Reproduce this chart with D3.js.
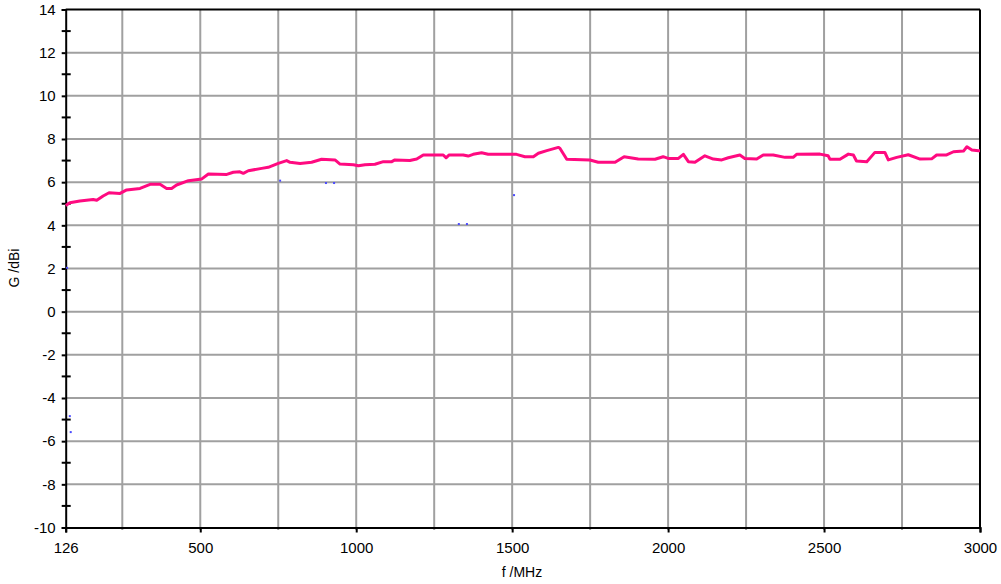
<html>
<head>
<meta charset="UTF-8">
<title>G / f</title>
<script src="https://cdn.jsdelivr.net/npm/d3@7"></script>
<style type="text/css">
    body { margin:0; background:#fff; }
    svg text { font-family:Arial, "Liberation Sans", sans-serif; fill:#000; }
</style>
</head>
<body>
<div id="chart"></div>
<script>
    // gain curve
    var freq = [126,135,157,186,194,208,221,245,264,307,339,371,392,408,424,462,505,526,585,606,627,638,654,697,718,750,777,788,820,857,889,932,948,991,1007,1028,1060,1087,1114,1124,1172,1194,1215,1279,1288,1298,1343,1359,1375,1402,1423,1514,1541,1568,1584,1611,1648,1653,1675,1749,1776,1830,1859,1904,1958,1984,2000,2033,2049,2065,2086,2118,2145,2172,2193,2230,2246,2284,2305,2337,2375,2401,2412,2487,2513,2519,2551,2578,2594,2604,2637,2663,2695,2706,2733,2770,2808,2845,2861,2893,2915,2947,2958,2974,2995,3000];
    var gain = [4.92,5.05,5.13,5.2,5.16,5.36,5.51,5.48,5.64,5.71,5.9,5.9,5.71,5.71,5.87,6.07,6.15,6.38,6.36,6.46,6.48,6.41,6.53,6.64,6.69,6.87,7.0,6.92,6.87,6.92,7.06,7.03,6.84,6.81,6.76,6.81,6.83,6.95,6.95,7.03,7.0,7.07,7.26,7.26,7.13,7.26,7.26,7.21,7.29,7.36,7.29,7.29,7.18,7.18,7.34,7.46,7.61,7.57,7.06,7.03,6.92,6.92,7.18,7.07,7.06,7.18,7.1,7.1,7.29,6.95,6.92,7.22,7.07,7.03,7.13,7.26,7.1,7.07,7.26,7.26,7.15,7.15,7.29,7.3,7.22,7.06,7.06,7.3,7.26,6.98,6.95,7.38,7.38,7.03,7.15,7.27,7.07,7.08,7.26,7.26,7.41,7.44,7.64,7.49,7.46,7.46];

    // stray blue points
    var dotFreq = [129,135,137,756,903,929,1329,1355,1506];
    var dotGain = [2.03,-4.84,-5.58,6.07,5.96,5.96,4.06,4.06,5.4];

    var xTickVals = [126,500,1000,1500,2000,2500,3000];
    var xGridVals = [250,500,750,1000,1250,1500,1750,2000,2250,2500,2750];
    var yTickVals = [-10,-8,-6,-4,-2,0,2,4,6,8,10,12,14];
    var yMinorVals = [-9,-7,-5,-3,-1,1,3,5,7,9,11,13];

    var W = 1001, H = 584;
    var mLeft = 65.7, mTop = 9.5, pw = 914.3, ph = 518;

    var svg = d3.select("#chart").append("svg")
        .attr("width", W).attr("height", H);
    var g = svg.append("g").attr("transform", "translate(" + mLeft + "," + mTop + ")");

    // the first axis section (126..250) is wider than the rest in the original
    var x = d3.scaleLinear().domain([126, 250, 3000]).range([0, 56.6, pw]);
    var y = d3.scaleLinear().domain([-10, 14]).range([ph, 0]);

    // grid
    g.selectAll("line.hgrid")
        .data(yTickVals.filter(function(d){ return d > -10 && d < 14; }))
        .enter().append("line")
        .attr("class", "hgrid")
        .attr("x1", 0).attr("x2", pw)
        .attr("y1", function(d){ return y(d); })
        .attr("y2", function(d){ return y(d); })
        .attr("stroke", "#a0a0a0").attr("stroke-width", 2);
    g.selectAll("line.vgrid")
        .data(xGridVals)
        .enter().append("line")
        .attr("class", "vgrid")
        .attr("x1", function(d){ return x(d); })
        .attr("x2", function(d){ return x(d); })
        .attr("y1", 0).attr("y2", ph + 2.5)
        .attr("stroke", "#a0a0a0").attr("stroke-width", 2);

    // frame: top and right
    g.append("line").attr("x1", 0).attr("x2", pw).attr("y1", 0).attr("y2", 0)
        .attr("stroke", "#000").attr("stroke-width", 2);
    g.append("line").attr("x1", pw).attr("x2", pw).attr("y1", 0).attr("y2", ph)
        .attr("stroke", "#000").attr("stroke-width", 2);

    // x axis
    var xAxis = d3.axisBottom(x).tickValues(xTickVals).tickSize(5).tickPadding(10)
        .tickFormat(function(d){ return String(d); });
    var gx = g.append("g").attr("transform", "translate(0," + ph + ")").call(xAxis);
    gx.select(".domain").attr("stroke", "#000").attr("stroke-width", 2);
    gx.selectAll(".tick line").attr("stroke", "#000").attr("stroke-width", 2);
    gx.selectAll("text").style("font-size", "15px").attr("dy", "0.71em");

    // y axis (plain hyphen for negatives, as in the original)
    var yAxis = d3.axisLeft(y).tickValues(yTickVals).tickSize(4).tickPadding(6)
        .tickFormat(function(d){ return String(d); });
    var gy = g.append("g").call(yAxis);
    gy.select(".domain").attr("stroke", "#000").attr("stroke-width", 2);
    gy.selectAll(".tick line").attr("stroke", "#000").attr("stroke-width", 2);
    gy.selectAll("text").style("font-size", "15px");

    g.selectAll("line.minor")
        .data(yMinorVals)
        .enter().append("line")
        .attr("class", "minor")
        .attr("x1", -4).attr("x2", 5)
        .attr("y1", function(d){ return y(d); })
        .attr("y2", function(d){ return y(d); })
        .attr("stroke", "#000").attr("stroke-width", 2);

    // blue points
    g.selectAll("rect.dot")
        .data(dotFreq)
        .enter().append("rect")
        .attr("class", "dot")
        .attr("x", function(d){ return x(d) - 1; })
        .attr("y", function(d, i){ return y(dotGain[i]) - 1; })
        .attr("width", 2).attr("height", 2)
        .attr("fill", "#4a4aff");

    // gain curve
    var line = d3.line()
        .x(function(d){ return x(d); })
        .y(function(d, i){ return y(gain[i]); });
    g.append("path")
        .datum(freq)
        .attr("fill", "none")
        .attr("stroke", "#ff0a80")
        .attr("stroke-width", 3)
        .attr("stroke-linejoin", "round")
        .attr("d", line);

    // axis titles
    svg.append("text")
        .attr("x", 522).attr("y", 577)
        .attr("text-anchor", "middle")
        .style("font-size", "14px")
        .text("f /MHz");
    svg.append("text")
        .attr("transform", "translate(19,268) rotate(-90)")
        .attr("text-anchor", "middle")
        .style("font-size", "14px")
        .text("G /dBi");
</script>
</body>
</html>
